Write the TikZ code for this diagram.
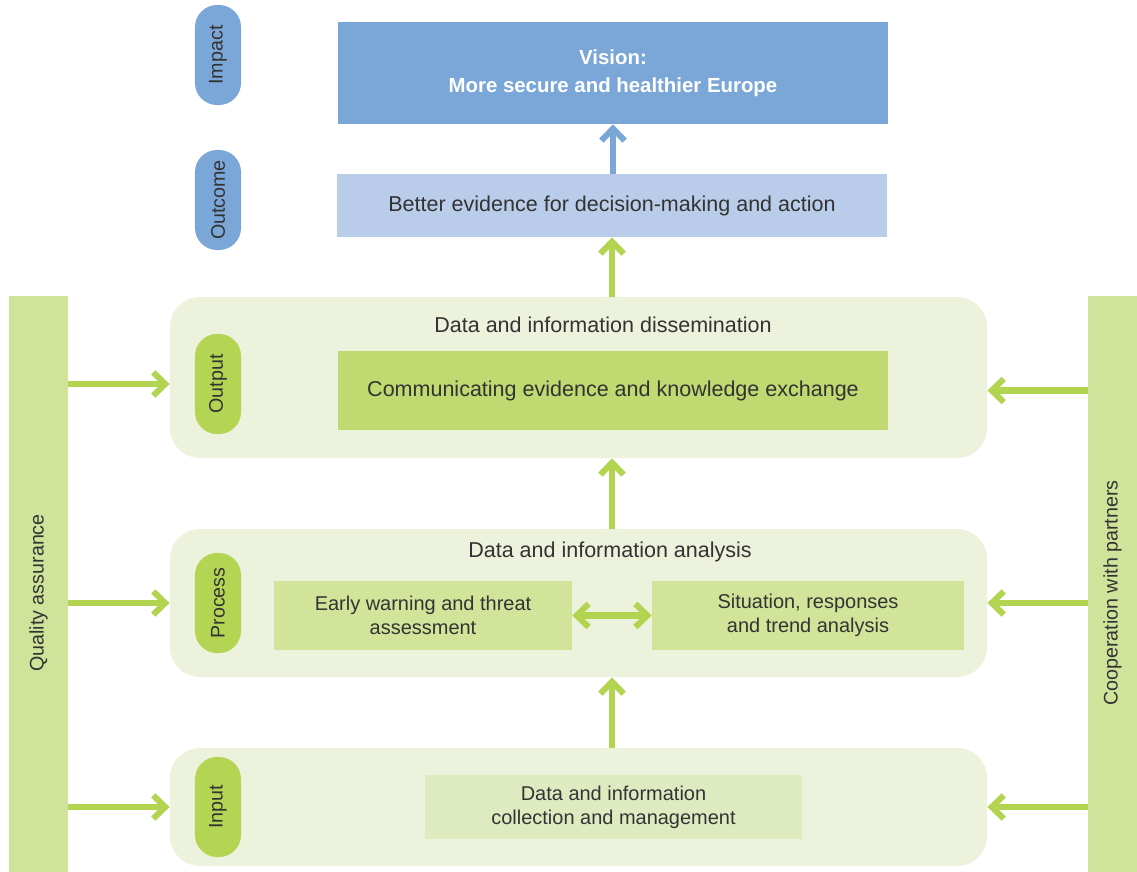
\documentclass[tikz,border=0pt]{standalone}
\usepackage{fontspec}
\setmainfont{Liberation Sans}
\usepackage{xcolor}
\definecolor{Col1}{HTML}{7BA6D8}
\definecolor{Col2}{HTML}{B9CDEA}
\definecolor{Col3}{HTML}{EDF2DC}
\definecolor{Col4}{HTML}{B4D554}
\definecolor{Col5}{HTML}{C0D970}
\definecolor{Col6}{HTML}{D2E49A}
\definecolor{Col7}{HTML}{DEEBC0}
\definecolor{Col8}{HTML}{CFE39A}
\definecolor{Col9}{HTML}{B2D450}
\definecolor{ColT}{HTML}{333333}
\usetikzlibrary{arrows.meta}
\tikzstyle{Panel}=[rounded corners=0.75cm,fill=Col3,inner sep=0pt,
minimum width=20.425cm]
\tikzstyle{Pill}=[rounded corners=0.55cm,rotate=90,inner sep=0pt,
minimum width=2.5cm,minimum height=1.15cm,text=ColT,
font=\fontsize{14}{17}\selectfont]
\tikzstyle{Box}=[inner sep=0pt,text=ColT,align=center]
\tikzstyle{SmallBox}=[Box,font=\fontsize{14.2}{17.3}\selectfont]
\tikzstyle{Bar}=[fill=Col8,inner sep=0pt,minimum height=14.4cm]
\tikzstyle{BarText}=[rotate=90,text=ColT,font=\fontsize{14}{17}\selectfont]
\tikzstyle{Title}=[text=ColT]
\tikzstyle{Arrow}=[draw=Col9,line width=4.3pt,
-{Straight Barb[length=3mm,width=5.8mm]}]
\tikzstyle{BiArrow}=[Arrow,{Straight Barb[length=3mm,width=5.8mm]}-{Straight Barb[length=3mm,width=5.8mm]}]

\begin{document}
\begin{tikzpicture}[x=0.025cm,y=-0.025cm,font=\fontsize{15.3}{17.5}\selectfont]
    \useasboundingbox (0,0) rectangle (1137,872);
    %
    \node[Pill,fill=Col1](impact)at(218,55){Impact};
    \node[Pill,fill=Col1](outcome)at(218,200){Outcome};
    \node[Box,fill=Col1,text=white,font=\fontsize{14.5}{20}\selectfont\bfseries,
        minimum width=13.75cm,minimum height=2.55cm](vision)at(613,73)
        {Vision:\\More secure and healthier Europe};
    \node[Box,fill=Col2,minimum width=13.75cm,minimum height=1.575cm]
        (evidence)at(612,205.5){Better evidence for decision-making and action};
    %
    \node[Panel,minimum height=4.025cm](outpanel)at(578.5,377.5){};
    \node[Panel,minimum height=3.7cm](procpanel)at(578.5,603){};
    \node[Panel,minimum height=2.95cm](inpanel)at(578.5,807){};
    \node[Pill,fill=Col4](output)at(218,384){Output};
    \node[Pill,fill=Col4](process)at(218,603){Process};
    \node[Pill,fill=Col4](input)at(218,807){Input};
    \node[Title](dissem)at(603,325){Data and information dissemination};
    \node[Title](analysis)at(610,552){Data and information analysis};
    \node[Box,fill=Col5,minimum width=13.75cm,minimum height=1.975cm]
        (comm)at(613,390.5){Communicating evidence and knowledge exchange};
    \node[SmallBox,fill=Col6,minimum width=7.45cm,minimum height=1.725cm]
        (early)at(423,615.5){Early warning and threat\\assessment};
    \node[SmallBox,fill=Col6,minimum width=7.8cm,minimum height=1.725cm]
        (situation)at(808,615.5){Situation, responses\\and trend analysis};
    \node[SmallBox,fill=Col7,minimum width=9.425cm,minimum height=1.6cm]
        (collect)at(613.5,807){Data and information\\collection and management};
    %
    \node[Bar,minimum width=1.475cm](quality)at(38.5,584){};
    \node[BarText]at(38.5,593){Quality assurance};
    \node[Bar,minimum width=1.225cm](partners)at(1112.5,584){};
    \node[BarText]at(1112.5,593){Cooperation with partners};
    %
    \draw[Arrow,draw=Col1](evidence.north-|vision.south)--(vision.south);
    \draw[Arrow](outpanel.north-|evidence.south)--(evidence.south);
    \draw[Arrow](procpanel.north-|evidence.south)--(outpanel.south-|evidence.south);
    \draw[Arrow](inpanel.north-|evidence.south)--(procpanel.south-|evidence.south);
    \draw[BiArrow](early.east)--(situation.west);
    \draw[Arrow](quality.east|-output)--(outpanel.west|-output);
    \draw[Arrow](quality.east|-process)--(procpanel.west|-process);
    \draw[Arrow](quality.east|-input)--(inpanel.west|-input);
    \draw[Arrow](partners.west|-comm)--(outpanel.east|-comm);
    \draw[Arrow](partners.west|-process)--(procpanel.east|-process);
    \draw[Arrow](partners.west|-input)--(inpanel.east|-input);
\end{tikzpicture}
\end{document}
